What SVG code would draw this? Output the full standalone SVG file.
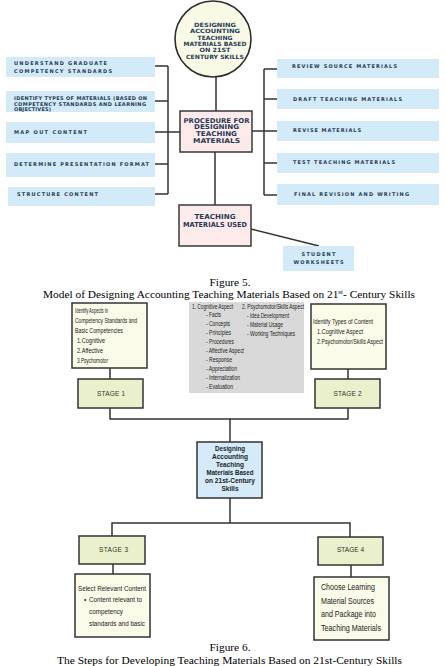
<svg xmlns="http://www.w3.org/2000/svg" width="446" height="666" viewBox="0 0 446 666">
<style>
.bg{fill:#ffffff}
.cn{fill:none;stroke:#333333;stroke-width:1.5}
.blue{fill:#d3eaf8}
.pink{fill:#fdeaea;stroke:#3a3a3a;stroke-width:1.5}
.circ{fill:#f9fae6;stroke:#2e2e2e;stroke-width:1.6}
.hd{font-family:"DejaVu Sans",sans-serif;font-weight:bold;fill:#263a56;text-anchor:middle}
.lb{font-family:"DejaVu Sans",sans-serif;font-weight:bold;fill:#263a56;font-size:5px}
.cream{fill:#fbfbe9;stroke:#333333;stroke-width:1.5}
.stage{fill:#ebf0cc;stroke:#333333;stroke-width:1.5}
.cen{fill:#d5ebfa;stroke:#333333;stroke-width:1.5}
.gray{fill:#d9d9d9}
.st{font-family:"Liberation Sans",sans-serif;font-size:6.5px;fill:#333333;text-anchor:middle}
.sm{font-family:"Liberation Sans",sans-serif;font-size:6.6px;fill:#222222}
.md{font-family:"Liberation Sans",sans-serif;font-size:8.5px;fill:#222222}
.cb{font-family:"Liberation Sans",sans-serif;font-size:8px;font-weight:bold;fill:#222222;text-anchor:middle}
.cap{font-family:"Liberation Serif","DejaVu Serif",serif;font-size:10.5px;fill:#000000;text-anchor:middle}
</style>
<rect class="bg" x="0" y="0" width="446" height="666"/>

<g id="connectors">
<path class="cn" d="M216,76 V111 M215,152 V206"/>
<path class="cn" d="M155,66 H168 M155,101 H168 M155,132 H180 M155,164 H168 M155,194 H168 M168,66 V194"/>
<path class="cn" d="M264,69 V195 M264,69 H277 M264,99 H277 M252,131 H277 M264,163 H277 M264,195 H277"/>
<path class="cn" d="M251,229 L319,246"/>
<path class="cn" d="M110,368 V379 M348,369 V379 M110,408 V419 H348 V408 M230,419 V442"/>
<path class="cn" d="M230,498 V523 M112,536 V523 H350 V537 M113,564 V574 M351,565 V577"/>
</g>

<g id="n-main">
<circle class="circ" cx="213" cy="39" r="38"/>
<text class="hd" font-size="5.8" x="215" y="27" textLength="42" lengthAdjust="spacingAndGlyphs">DESIGNING</text>
<text class="hd" font-size="5.8" x="215" y="33.3" textLength="50" lengthAdjust="spacingAndGlyphs">ACCOUNTING</text>
<text class="hd" font-size="5.8" x="215" y="39.6" textLength="35" lengthAdjust="spacingAndGlyphs">TEACHING</text>
<text class="hd" font-size="5.8" x="215" y="45.9" textLength="63" lengthAdjust="spacingAndGlyphs">MATERIALS BASED</text>
<text class="hd" font-size="5.8" x="215" y="52.2" textLength="31" lengthAdjust="spacingAndGlyphs">ON 21ST</text>
<text class="hd" font-size="5.8" x="215" y="58.5" textLength="58" lengthAdjust="spacingAndGlyphs">CENTURY SKILLS</text>
</g>

<g id="n-l1"><rect class="blue" x="6" y="57" width="149" height="20"/>
<text class="lb" x="14" y="64.8" textLength="93" lengthAdjust="spacing">UNDERSTAND GRADUATE</text>
<text class="lb" x="14" y="72.8" textLength="98" lengthAdjust="spacing">COMPETENCY STANDARDS</text></g>
<g id="n-l2"><rect class="blue" x="6" y="91" width="149" height="21"/>
<text class="lb" font-size="4.2" x="14" y="99.5" textLength="133" lengthAdjust="spacing">IDENTIFY TYPES OF MATERIALS (BASED ON</text>
<text class="lb" font-size="4.2" x="14" y="105.5" textLength="132" lengthAdjust="spacing">COMPETENCY STANDARDS AND LEARNING</text>
<text class="lb" font-size="4.2" x="14" y="111.3" textLength="37" lengthAdjust="spacing">OBJECTIVES)</text></g>
<g id="n-l3"><rect class="blue" x="6" y="122" width="149" height="21"/>
<text class="lb" x="14" y="133.8" textLength="73" lengthAdjust="spacing">MAP OUT CONTENT</text></g>
<g id="n-l4"><rect class="blue" x="6" y="153" width="149" height="24"/>
<text class="lb" x="14" y="165.8" textLength="135" lengthAdjust="spacing">DETERMINE PRESENTATION FORMAT</text></g>
<g id="n-l5"><rect class="blue" x="8" y="187" width="147" height="19"/>
<text class="lb" x="17" y="195.8" textLength="81" lengthAdjust="spacing">STRUCTURE CONTENT</text></g>

<g id="n-r1"><rect class="blue" x="277" y="59" width="162" height="19"/>
<text class="lb" x="292" y="67.8" textLength="105" lengthAdjust="spacing">REVIEW SOURCE MATERIALS</text></g>
<g id="n-r2"><rect class="blue" x="277" y="89" width="162" height="20"/>
<text class="lb" x="293" y="100.8" textLength="109" lengthAdjust="spacing">DRAFT TEACHING MATERIALS</text></g>
<g id="n-r3"><rect class="blue" x="277" y="121" width="162" height="20"/>
<text class="lb" x="293" y="131.8" textLength="68" lengthAdjust="spacing">REVISE MATERIALS</text></g>
<g id="n-r4"><rect class="blue" x="277" y="153" width="162" height="20"/>
<text class="lb" x="293" y="163.8" textLength="102" lengthAdjust="spacing">TEST TEACHING MATERIALS</text></g>
<g id="n-r5"><rect class="blue" x="277" y="184" width="162" height="21"/>
<text class="lb" x="294" y="195.8" textLength="115" lengthAdjust="spacing">FINAL REVISION AND WRITING</text></g>

<g id="n-proc"><rect class="pink" x="180" y="111" width="72" height="41"/>
<text class="hd" font-size="6.6" x="216.5" y="122.5" textLength="66" lengthAdjust="spacingAndGlyphs">PROCEDURE FOR</text>
<text class="hd" font-size="6.6" x="216.5" y="129.3" textLength="45" lengthAdjust="spacingAndGlyphs">DESIGNING</text>
<text class="hd" font-size="6.6" x="216.5" y="136.1" textLength="41" lengthAdjust="spacingAndGlyphs">TEACHING</text>
<text class="hd" font-size="6.6" x="216.5" y="142.9" textLength="47" lengthAdjust="spacingAndGlyphs">MATERIALS</text></g>

<g id="n-used"><rect class="pink" x="179" y="205" width="72" height="41"/>
<text class="hd" font-size="6.8" x="215" y="219.3" textLength="41" lengthAdjust="spacingAndGlyphs">TEACHING</text>
<text class="hd" font-size="6.8" x="215" y="226.5" textLength="64" lengthAdjust="spacingAndGlyphs">MATERIALS USED</text></g>

<g id="n-ws"><rect class="blue" x="283" y="246" width="71" height="25"/>
<text class="lb" x="318.5" y="256" text-anchor="middle" textLength="34" lengthAdjust="spacing">STUDENT</text>
<text class="lb" x="318.5" y="263.5" text-anchor="middle" textLength="50" lengthAdjust="spacing">WORKSHEETS</text></g>

<g id="caption5">
<text class="cap" x="230" y="285.5" textLength="41" lengthAdjust="spacingAndGlyphs">Figure 5.</text>
<text class="cap" x="229" y="298" textLength="372" lengthAdjust="spacingAndGlyphs">Model of Designing Accounting Teaching Materials Based on 21<tspan font-size="6.5" dy="-4">st</tspan><tspan dy="4">- Century Skills</tspan></text>
</g>

<g id="n-aspects"><rect class="cream" x="72" y="303" width="75" height="65"/>
<text class="sm" x="75" y="312.5" textLength="33" lengthAdjust="spacingAndGlyphs">Identify Aspects in</text>
<text class="sm" x="75" y="322.5" textLength="62" lengthAdjust="spacingAndGlyphs">Competency Standards and</text>
<text class="sm" x="75" y="332.5" textLength="48" lengthAdjust="spacingAndGlyphs">Basic Competencies</text>
<text class="sm" x="77" y="342.5" textLength="28" lengthAdjust="spacingAndGlyphs">1.Cognitive</text>
<text class="sm" x="77" y="352.5" textLength="26" lengthAdjust="spacingAndGlyphs">2.Affective</text>
<text class="sm" x="77" y="362.5" textLength="31" lengthAdjust="spacingAndGlyphs">3.Psychomotor</text></g>

<g id="n-gray"><rect class="gray" x="189" y="302" width="115" height="91"/>
<text class="sm" x="192" y="308.6" textLength="41" lengthAdjust="spacingAndGlyphs">1. Cognitive Aspect</text>
<text class="sm" x="206" y="316.8" textLength="15" lengthAdjust="spacingAndGlyphs">- Facts</text>
<text class="sm" x="206" y="325.5" textLength="24" lengthAdjust="spacingAndGlyphs">- Concepts</text>
<text class="sm" x="206" y="334.5" textLength="25" lengthAdjust="spacingAndGlyphs">- Principles</text>
<text class="sm" x="206" y="343.5" textLength="28" lengthAdjust="spacingAndGlyphs">- Procedures</text>
<text class="sm" x="206" y="352.5" textLength="38" lengthAdjust="spacingAndGlyphs">- Affective Aspect</text>
<text class="sm" x="206" y="361.5" textLength="26" lengthAdjust="spacingAndGlyphs">- Response</text>
<text class="sm" x="206" y="371" textLength="31" lengthAdjust="spacingAndGlyphs">- Appreciation</text>
<text class="sm" x="206" y="380" textLength="34" lengthAdjust="spacingAndGlyphs">- Internalization</text>
<text class="sm" x="206" y="389" textLength="27" lengthAdjust="spacingAndGlyphs">- Evaluation</text>
<text class="sm" x="242" y="308.6" textLength="62" lengthAdjust="spacingAndGlyphs">2. Psychomotor/Skills Aspect</text>
<text class="sm" x="247" y="318" textLength="42" lengthAdjust="spacingAndGlyphs">- Idea Development</text>
<text class="sm" x="247" y="327" textLength="36" lengthAdjust="spacingAndGlyphs">- Material Usage</text>
<text class="sm" x="247" y="336" textLength="48" lengthAdjust="spacingAndGlyphs">- Working Techniques</text></g>

<g id="n-types"><rect class="cream" x="311" y="304" width="75" height="65"/>
<text class="sm" x="313" y="324.3" textLength="60" lengthAdjust="spacingAndGlyphs">Identify Types of Content</text>
<text class="sm" x="317" y="334" textLength="46" lengthAdjust="spacingAndGlyphs">1.Cognitive Aspect</text>
<text class="sm" x="317" y="343.5" textLength="66" lengthAdjust="spacingAndGlyphs">2.Psychomotor/Skills Aspect</text></g>

<g id="n-stage1"><rect class="stage" x="78" y="379" width="65" height="29"/>
<text class="st" x="111" y="395.5" textLength="28" lengthAdjust="spacing">STAGE 1</text></g>
<g id="n-stage2"><rect class="stage" x="315" y="379" width="65" height="29"/>
<text class="st" x="347.5" y="395.5" textLength="28" lengthAdjust="spacing">STAGE 2</text></g>

<g id="n-center"><rect class="cen" x="197" y="442" width="65" height="56"/>
<text class="cb" x="230" y="450.8" textLength="30" lengthAdjust="spacingAndGlyphs">Designing</text>
<text class="cb" x="230" y="458.9" textLength="36" lengthAdjust="spacingAndGlyphs">Accounting</text>
<text class="cb" x="230" y="467" textLength="28" lengthAdjust="spacingAndGlyphs">Teaching</text>
<text class="cb" x="230" y="475.1" textLength="47" lengthAdjust="spacingAndGlyphs">Materials Based</text>
<text class="cb" x="230" y="483.2" textLength="50" lengthAdjust="spacingAndGlyphs">on 21st-Century</text>
<text class="cb" x="230" y="491.3" textLength="17" lengthAdjust="spacingAndGlyphs">Skills</text></g>

<g id="n-stage3"><rect class="stage" x="79" y="536" width="66" height="28"/>
<text class="st" x="113.5" y="552.3" textLength="29" lengthAdjust="spacing">STAGE 3</text></g>
<g id="n-stage4"><rect class="stage" x="318" y="537" width="65" height="28"/>
<text class="st" x="350.5" y="552.3" textLength="27" lengthAdjust="spacing">STAGE 4</text></g>

<g id="n-select"><rect class="cream" x="75" y="574" width="75" height="63"/>
<text class="sm" font-size="7.3" x="78" y="590.5" textLength="68" lengthAdjust="spacingAndGlyphs">Select Relevant Content</text>
<text class="sm" font-size="7.3" x="84" y="601.5">•</text>
<text class="sm" font-size="7.3" x="89" y="601.5" textLength="53" lengthAdjust="spacingAndGlyphs">Content relevant to</text>
<text class="sm" font-size="7.3" x="89" y="613.5" textLength="34" lengthAdjust="spacingAndGlyphs">competency</text>
<text class="sm" font-size="7.3" x="89" y="625.5" textLength="56" lengthAdjust="spacingAndGlyphs">standards and basic</text></g>

<g id="n-choose"><rect class="cream" x="314" y="577" width="75" height="63"/>
<text class="md" x="321" y="590" textLength="54" lengthAdjust="spacingAndGlyphs">Choose Learning</text>
<text class="md" x="321" y="604" textLength="53" lengthAdjust="spacingAndGlyphs">Material Sources</text>
<text class="md" x="321" y="617" textLength="55" lengthAdjust="spacingAndGlyphs">and Package into</text>
<text class="md" x="321" y="631" textLength="60" lengthAdjust="spacingAndGlyphs">Teaching Materials</text></g>

<g id="caption6">
<text class="cap" x="230" y="650.5" textLength="41" lengthAdjust="spacingAndGlyphs">Figure 6.</text>
<text class="cap" x="229.5" y="663.5" textLength="345" lengthAdjust="spacingAndGlyphs">The Steps for Developing Teaching Materials Based on 21st-Century Skills</text>
</g>
</svg>
